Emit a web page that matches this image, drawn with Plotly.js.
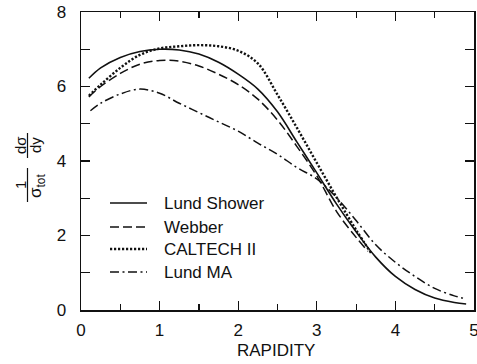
<!DOCTYPE html>
<html>
<head>
<meta charset="utf-8">
<script src="https://cdn.plot.ly/plotly-3.0.1.min.js"></script>
<style>html,body{margin:0;padding:0;background:#fff;}#chart{width:477px;height:364px;}</style>
</head>
<body>
<div id="chart"></div>
<script>
// ---- data ----
const seriesNames = ["Lund Shower", "Webber", "CALTECH II", "Lund MA"];

const xLundShower = [0.1,0.25,0.5,0.75,1.0,1.25,1.5,1.75,2.0,2.25,2.5,2.75,3.0,3.25,3.5,3.75,4.0,4.25,4.5,4.75,4.9];
const yLundShower = [6.22,6.5,6.78,6.94,7.0,6.98,6.87,6.65,6.33,5.93,5.32,4.5,3.68,2.85,2.1,1.42,0.9,0.55,0.32,0.2,0.16];

const xWebber = [0.1,0.25,0.5,0.75,1.0,1.25,1.5,1.75,2.0,2.25,2.5,2.75,3.0,3.25,3.5,3.65];
const yWebber = [5.72,6.0,6.35,6.6,6.7,6.68,6.55,6.33,6.05,5.66,5.1,4.38,3.6,2.65,1.95,1.58];

const xCaltech = [0.1,0.25,0.5,0.75,1.0,1.25,1.5,1.75,2.0,2.25,2.5,2.75,3.0,3.25,3.5,3.7];
const yCaltech = [5.75,6.05,6.5,6.85,7.02,7.08,7.11,7.08,6.96,6.62,5.78,4.88,3.95,3.03,2.15,1.5];

const xLundMA = [0.12,0.25,0.5,0.75,1.0,1.25,1.5,1.75,2.0,2.25,2.5,2.75,3.0,3.25,3.5,3.75,4.0,4.25,4.5,4.75,4.9];
const yLundMA = [5.35,5.55,5.8,5.93,5.82,5.55,5.3,5.05,4.8,4.48,4.18,3.82,3.52,3.02,2.4,1.75,1.28,0.9,0.58,0.38,0.3];

const xTickVals = [0,1,2,3,4,5];
const xTickText = ["0","1","2","3","4","5"];
const yTickVals = [0,2,4,6,8];
const yTickText = ["0","2","4","6","8"];
const xTitle = "RAPIDITY";

// ---- styling ----
const FONT = "Liberation Sans, Arial, sans-serif";
const INK = "#111";
const M = {l:81, r:3, t:12, b:54};
const W = 477, H = 364;
const pw = W - M.l - M.r, ph = H - M.t - M.b;
const px2x = p => (p - M.l) / pw;
const px2y = q => (H - M.b - q) / ph;

const styles = [
  {dash: "solid", width: 1.6},
  {dash: "9px,4px", width: 1.5},
  {dash: "2.2px,1.8px", width: 2.4},
  {dash: "9px,3.5px,2px,3.5px", width: 1.5}
];
const xs = [xLundShower, xWebber, xCaltech, xLundMA];
const ys = [yLundShower, yWebber, yCaltech, yLundMA];

const traces = seriesNames.map((n, i) => ({
  x: xs[i], y: ys[i], name: n, type: "scatter", mode: "lines",
  line: {color: INK, width: styles[i].width, dash: styles[i].dash, shape: "spline", smoothing: 1},
  showlegend: false, hoverinfo: "skip"
}));

// custom legend
const legRows = [203, 227, 249, 272];
const shapes = [];
const annotations = [];
seriesNames.forEach((n, i) => {
  shapes.push({type: "line", xref: "paper", yref: "paper",
    x0: px2x(110), x1: px2x(147), y0: px2y(legRows[i]), y1: px2y(legRows[i]),
    line: {color: INK, width: styles[i].width, dash: styles[i].dash}});
  annotations.push({xref: "paper", yref: "paper", x: px2x(162), y: px2y(legRows[i]),
    xanchor: "left", yanchor: "middle", text: n, showarrow: false,
    font: {family: FONT, size: 17, color: INK}});
});

// x-axis title
annotations.push({xref:"paper", yref:"paper", x: px2x(276), y: px2y(350), text: xTitle, showarrow:false,
  xanchor:"center", yanchor:"middle", font:{family: FONT, size: 17, color: INK}});

// y-axis title (1/σ_tot dσ/dy) built from rotated pieces
const yt = {family: FONT, size: 15, color: INK};
annotations.push({xref:"paper", yref:"paper", x: px2x(20), y: px2y(185), text: "1", textangle: -90, showarrow: false, font: yt, xanchor:"center", yanchor:"middle"});
annotations.push({xref:"paper", yref:"paper", x: px2x(37), y: px2y(186), text: "σ<sub>tot</sub>", textangle: -90, showarrow: false, font: {family: FONT, size: 17, color: INK}, xanchor:"center", yanchor:"middle"});
annotations.push({xref:"paper", yref:"paper", x: px2x(20), y: px2y(145), text: "dσ", textangle: -90, showarrow: false, font: yt, xanchor:"center", yanchor:"middle"});
annotations.push({xref:"paper", yref:"paper", x: px2x(35), y: px2y(145), text: "dy", textangle: -90, showarrow: false, font: yt, xanchor:"center", yanchor:"middle"});
shapes.push({type:"line", xref:"paper", yref:"paper", x0: px2x(27.5), x1: px2x(27.5), y0: px2y(168), y1: px2y(202), line:{color: INK, width: 1.2}});
shapes.push({type:"line", xref:"paper", yref:"paper", x0: px2x(27.5), x1: px2x(27.5), y0: px2y(133), y1: px2y(158), line:{color: INK, width: 1.2}});

const axisCommon = {
  showgrid: false, zeroline: false, showline: true, mirror: "ticks",
  linecolor: INK, linewidth: 1.5, ticks: "inside", ticklen: 9, tickwidth: 1.3,
  tickcolor: INK, tickfont: {family: FONT, size: 17, color: INK}, fixedrange: true,
  ticklabeloverflow: "allow"
};

const layout = {
  width: W, height: H, margin: M,
  paper_bgcolor: "#fff", plot_bgcolor: "#fff",
  showlegend: false,
  xaxis: Object.assign({}, axisCommon, {
    range: [0, 5], tickmode: "array", tickvals: xTickVals, ticktext: xTickText,
    ticklabelstandoff: 4,
    minor: {tickmode: "linear", tick0: 0, dtick: 0.5, ticks: "inside", ticklen: 6, tickwidth: 1.2, tickcolor: INK, showgrid: false}
  }),
  yaxis: Object.assign({}, axisCommon, {
    range: [0, 8], tickmode: "array", tickvals: yTickVals, ticktext: yTickText,
    ticklabelstandoff: 10,
    minor: {tickmode: "linear", tick0: 0, dtick: 1, ticks: "inside", ticklen: 9, tickwidth: 1.3, tickcolor: INK, showgrid: false}
  }),
  shapes: shapes,
  annotations: annotations
};

Plotly.newPlot("chart", traces, layout, {staticPlot: true, displayModeBar: false});
</script>
</body>
</html>
